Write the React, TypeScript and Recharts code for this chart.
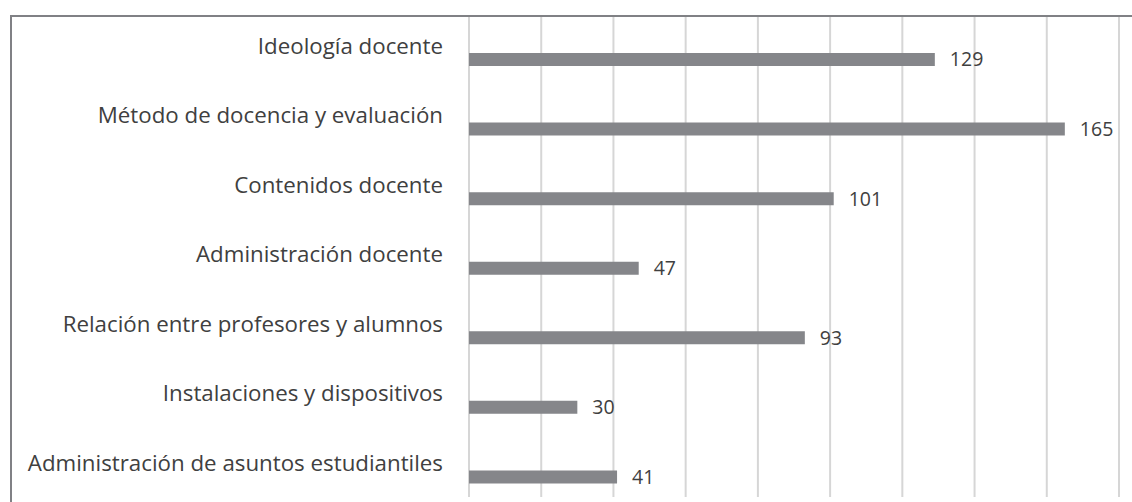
import { BarChart, Bar, XAxis, YAxis, CartesianGrid, LabelList } from "recharts";

const categories = [
  "Ideología docente",
  "Método de docencia y evaluación",
  "Contenidos docente",
  "Administración docente",
  "Relación entre profesores y alumnos",
  "Instalaciones y dispositivos",
  "Administración de asuntos estudiantiles",
];
const counts = [129, 165, 101, 47, 93, 30, 41];
const xTicks = [0, 20, 40, 60, 80, 100, 120, 140, 160, 180];

const data = categories.map((name, i) => ({ name, value: counts[i] }));

const FONT = "'Open Sans', Lato, sans-serif";
const TEXT = "#404040";

function CategoryTick(props: any) {
  const { x, y, payload } = props;
  return (
    <text x={x} y={y - 14} dy="0.35em" textAnchor="end" fill={TEXT} fontSize={22.3} fontFamily={FONT}>
      {payload.value}
    </text>
  );
}

export default function App() {
  return (
    <div style={{ position: "absolute", left: 0, top: 0, width: 1132, height: 502, overflow: "hidden", background: "#fff" }}>
      <div style={{ position: "absolute", left: 0, top: 0 }}>
        <BarChart
          width={1132}
          height={512}
          data={data}
          layout="vertical"
          margin={{ top: 15, right: 13, bottom: 0, left: 0 }}
        >
          <CartesianGrid horizontal={false} stroke="#d6d6d6" strokeWidth={2} />
          <XAxis type="number" domain={[0, 180]} ticks={xTicks} hide />
          <YAxis
            type="category"
            dataKey="name"
            width={469}
            padding={{ top: 10, bottom: 0 }}
            axisLine={false}
            tickLine={false}
            tickSize={0}
            tickMargin={26}
            tick={<CategoryTick />}
            interval={0}
          />
          <Bar dataKey="value" fill="#85868a" barSize={13} isAnimationActive={false}>
            <LabelList dataKey="value" position="right" offset={15} fill={TEXT} fontSize={19.5} fontFamily={FONT} />
          </Bar>
        </BarChart>
      </div>
      <div style={{ position: "absolute", left: 0, top: 0, width: 1132, height: 15, background: "#fff" }} />
      <div style={{ position: "absolute", left: 0, top: 497, width: 1132, height: 10, background: "#fff" }} />
      <div
        style={{
          position: "absolute",
          left: 10,
          top: 15,
          width: 1300,
          height: 600,
          borderTop: "2px solid #808185",
          borderLeft: "2px solid #808185",
        }}
      />
    </div>
  );
}
